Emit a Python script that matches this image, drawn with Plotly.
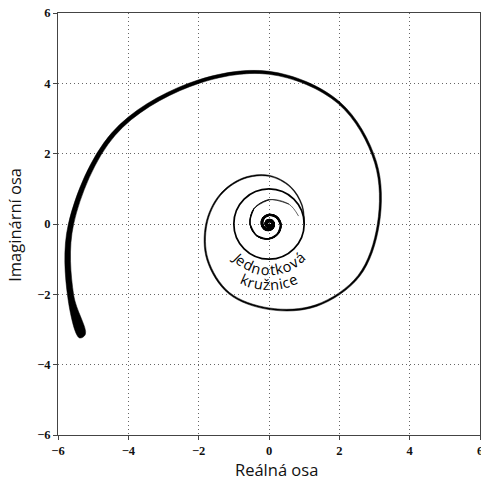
import math
import plotly.graph_objects as go

# ---- data ----
# growing spiral (outward, counter-clockwise), angle in degrees, radius
G_ANGLE_DEG = [0, 30, 60, 90, 120, 150, 180, 210, 240, 270, 300, 330, 360,
               390, 420, 450, 480, 510, 540, 560, 571]
G_RADIUS = [1.00, 1.08, 1.22, 1.37, 1.49, 1.62, 1.78, 2.02, 2.27, 2.41, 2.68,
            2.95, 3.11, 3.50, 3.98, 4.30, 4.56, 5.11, 5.63, 6.00, 6.19]

# decaying spiral (inward, counter-clockwise)
D_ANGLE_DEG = [15, 45, 90, 135, 180, 225, 270, 315, 360, 405, 450, 495, 540,
               585, 630, 675, 720, 765, 810, 855, 900, 945, 990, 1035, 1080]
D_RADIUS = [0.87, 0.80, 0.69, 0.61, 0.54, 0.48, 0.42, 0.37, 0.33, 0.29, 0.26,
            0.23, 0.20, 0.18, 0.16, 0.14, 0.125, 0.11, 0.098, 0.087, 0.077,
            0.068, 0.060, 0.053, 0.047]

UNIT_R = 1.0
AXIS_RANGE = [-6, 6]
TICK_VALS = [-6, -4, -2, 0, 2, 4, 6]
LABEL_LINES = ["Jednotková", "kružnice"]
X_TITLE = "Reálná osa"
Y_TITLE = "Imaginární osa"

# ---- styles ----
G_WIDTH = [0.6, 0.8, 1.0, 1.1, 1.2, 1.3, 1.4, 1.5, 1.6, 1.7, 1.8, 1.9, 2.0,
           2.2, 2.5, 3.0, 3.6, 4.3, 5.3, 6.3, 7.0]
D_WIDTH = [0.6, 0.7, 0.9, 1.1, 1.3, 1.5, 1.7, 1.9, 2.1, 2.3, 2.5, 2.7, 2.9,
           3.0, 3.1, 3.2, 3.3, 3.4, 3.5, 3.5, 3.5, 3.5, 3.5, 3.5, 3.5]
LABEL_RADIUS = [1.30, 1.73]
LABEL_FONT = 14.5
PX_PER_UNIT = 422 / 12.0
CHAR_EM = {"J": 0.27, "e": 0.56, "d": 0.62, "n": 0.62, "o": 0.6, "t": 0.36,
           "k": 0.52, "v": 0.5, "á": 0.56, "r": 0.4, "u": 0.62, "ž": 0.48,
           "i": 0.27, "c": 0.48}


def polar(a_deg, r):
    return r * math.cos(math.radians(a_deg)), r * math.sin(math.radians(a_deg))


fig = go.Figure()

# growing spiral: variable-width stroke drawn as a filled ribbon
outer = [polar(a, r + w / 2 / PX_PER_UNIT) for a, r, w in zip(G_ANGLE_DEG, G_RADIUS, G_WIDTH)]
inner = [polar(a, r - w / 2 / PX_PER_UNIT) for a, r, w in zip(G_ANGLE_DEG, G_RADIUS, G_WIDTH)]
ring = outer + inner[::-1]
fig.add_trace(go.Scatter(
    x=[p[0] for p in ring], y=[p[1] for p in ring], mode="lines",
    fill="toself", fillcolor="black",
    line=dict(color="black", width=0.5, shape="spline", smoothing=1.0),
    hoverinfo="skip", showlegend=False))

# decaying spiral: nested strokes, thicker toward the centre
dx = [polar(a, r)[0] for a, r in zip(D_ANGLE_DEG, D_RADIUS)]
dy = [polar(a, r)[1] for a, r in zip(D_ANGLE_DEG, D_RADIUS)]
for i in range(len(dx) - 1):
    fig.add_trace(go.Scatter(
        x=dx[i:], y=dy[i:], mode="lines",
        line=dict(color="black", width=D_WIDTH[i], shape="spline", smoothing=1.0),
        hoverinfo="skip", showlegend=False))

fig.add_shape(type="circle", xref="x", yref="y",
              x0=-UNIT_R, y0=-UNIT_R, x1=UNIT_R, y1=UNIT_R,
              line=dict(color="black", width=1.7))

# curved label along arcs below the unit circle
for text, rad in zip(LABEL_LINES, LABEL_RADIUS):
    widths = [CHAR_EM.get(c, 0.55) * LABEL_FONT for c in text]
    total = sum(widths)
    r_px = rad * PX_PER_UNIT
    pos = -total / 2
    for c, w in zip(text, widths):
        s = pos + w / 2
        pos += w
        phi = 270 + math.degrees(s / r_px)
        x, y = polar(phi, rad)
        fig.add_annotation(
            x=x, y=y, xref="x", yref="y", text=c, showarrow=False, textangle=270 - phi,
            font=dict(family="Open Sans", size=LABEL_FONT, color="black"),
            xanchor="center", yanchor="middle")

fig.add_annotation(text=X_TITLE, xref="paper", yref="paper", x=0.518, y=-0.082,
                   showarrow=False, xanchor="center", yanchor="middle",
                   font=dict(family="Open Sans", size=16.5, color="#111"))
fig.add_annotation(text=Y_TITLE, xref="paper", yref="paper", x=-0.102, y=0.498,
                   showarrow=False, xanchor="center", yanchor="middle", textangle=-90,
                   font=dict(family="Open Sans", size=16.5, color="#111"))

axis_common = dict(range=AXIS_RANGE, tickvals=TICK_VALS, showgrid=True,
                   gridcolor="#666", griddash="1px,3px", gridwidth=1,
                   zeroline=False, showline=True, linecolor="#444", linewidth=1,
                   mirror=True, ticks="outside", ticklen=4, tickcolor="#444",
                   automargin=False, ticklabeloverflow="allow",
                   tickfont=dict(family="Liberation Serif", size=12.5, color="#111",
                                 weight="bold"))

fig.update_xaxes(**axis_common)
fig.update_yaxes(**axis_common)

fig.update_layout(width=481, height=481, plot_bgcolor="white", paper_bgcolor="white",
                  margin=dict(l=58, r=1, t=13, b=46), showlegend=False)

fig.write_html("out.html", config={"displayModeBar": False},
               post_script="document.body.style.margin='0';document.body.style.overflow='hidden';")
